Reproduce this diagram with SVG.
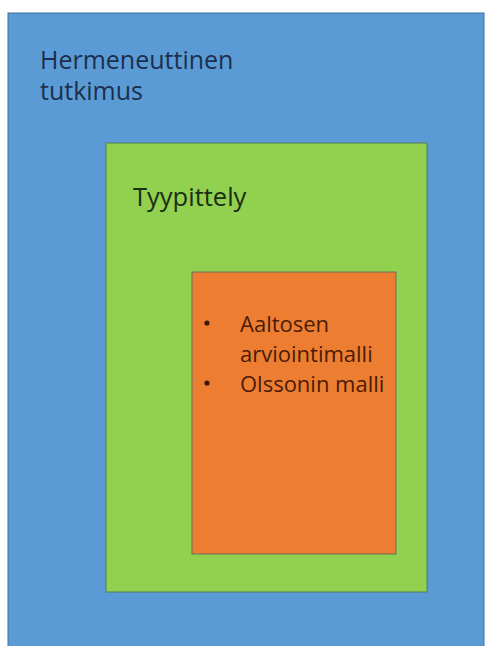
<svg xmlns="http://www.w3.org/2000/svg" width="486" height="646" viewBox="0 0 486 646">
<style>
.t{font-family:"Open Sans","Noto Sans","Liberation Sans",sans-serif}
</style>
<rect x="0" y="0" width="486" height="646" fill="#ffffff"/>
<g id="hermeneuttinen">
<rect x="8" y="13" width="476" height="636" fill="#5b9bd5" stroke="#41719c" stroke-width="1"/>
<text class="t" x="40" y="69" font-size="25" fill="#1c2f4d">Hermeneuttinen</text>
<text class="t" x="40" y="100" font-size="25" fill="#1c2f4d">tutkimus</text>
</g>
<g id="tyypittely">
<rect x="106" y="143" width="321" height="449" fill="#92d050" stroke="#4f7a5e" stroke-width="1"/>
<text class="t" x="133" y="206" font-size="25.5" fill="#1a2e12">Tyypittely</text>
</g>
<g id="mallit">
<rect x="192" y="272" width="204" height="282" fill="#ed7d31" stroke="#6b6e5a" stroke-width="1"/>
<circle cx="207" cy="323" r="2.6" fill="#3d1a08"/>
<circle cx="207" cy="383" r="2.6" fill="#3d1a08"/>
<text class="t" x="240" y="332" font-size="22" fill="#4a1c08">Aaltosen</text>
<text class="t" x="240" y="362" font-size="22" fill="#4a1c08">arviointimalli</text>
<text class="t" x="240" y="392" font-size="22" fill="#4a1c08">Olssonin malli</text>
</g>
<g id="connectors"></g>
</svg>
